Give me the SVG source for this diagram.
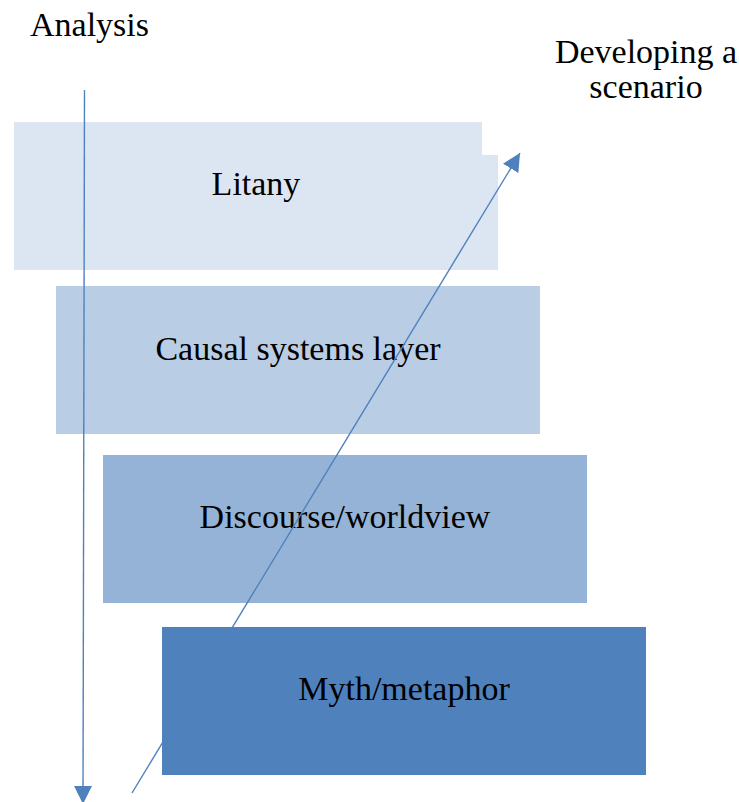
<svg xmlns="http://www.w3.org/2000/svg" width="739" height="802" viewBox="0 0 739 802">
<style>
text{font-family:"Times New Roman","Liberation Serif",serif;font-size:34px;fill:#000}
.c{text-anchor:middle}
.ln{stroke:#4F81BD;stroke-width:1.4;fill:none}
</style>
<defs>
<marker id="ah" markerUnits="userSpaceOnUse" markerWidth="18" markerHeight="18" refX="17" refY="8.5" orient="auto" viewBox="0 0 17 17">
<path d="M0,0 L17,8.5 L0,17 z" fill="#4F81BD"/>
</marker>
</defs>
<rect width="739" height="802" fill="#fff"/>
<text x="30" y="36">Analysis</text>
<text class="c" x="646" y="63">Developing a</text>
<text class="c" x="646" y="98">scenario</text>
<g id="litany">
<path d="M14,122 H482 V155 H498 V270 H14 Z" fill="#DCE6F2"/>
<text class="c" x="256" y="195">Litany</text>
</g>
<g id="causal">
<rect x="56" y="286" width="484" height="148" fill="#B9CDE5"/>
<text class="c" x="298" y="360">Causal systems layer</text>
</g>
<g id="discourse">
<rect x="103" y="455" width="484" height="148" fill="#95B3D7"/>
<text class="c" x="345" y="528">Discourse/worldview</text>
</g>
<g id="connectors">
<line class="ln" x1="84.5" y1="90" x2="83" y2="804" marker-end="url(#ah)"/>
<line class="ln" x1="132" y1="793" x2="520" y2="153" marker-end="url(#ah)"/>
</g>
<g id="myth">
<rect x="162" y="627" width="484" height="148" fill="#4F81BD"/>
<text class="c" x="404" y="700">Myth/metaphor</text>
</g>
</svg>
